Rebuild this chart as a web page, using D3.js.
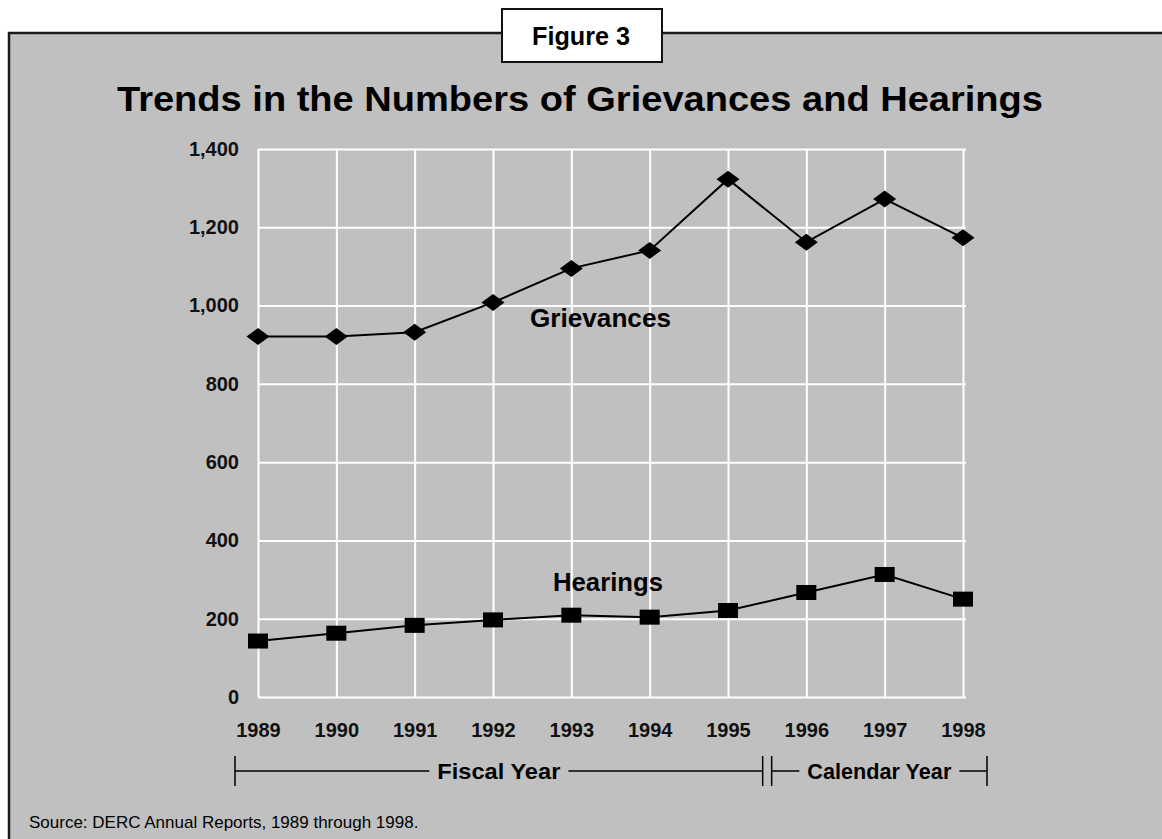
<!DOCTYPE html>
<html>
<head>
<meta charset="utf-8">
<script src="https://cdn.jsdelivr.net/npm/d3@7"></script>
<style>
  body { margin: 0; background: #fff; }
  svg { display: block; font-family: "Liberation Sans", Arial, sans-serif; }
</style>
</head>
<body>
<svg width="1162" height="839"></svg>
<script>
const years = [1989, 1990, 1991, 1992, 1993, 1994, 1995, 1996, 1997, 1998];
const grievances = [921, 921, 932, 1008, 1095, 1141, 1323, 1162, 1272, 1173];
const hearings = [143, 163, 183, 197, 209, 204, 221, 267, 313, 250];
const yTicks = [0, 200, 400, 600, 800, 1000, 1200, 1400];

const svg = d3.select('svg');

// frame
svg.append('rect')
    .attr('x', 9).attr('y', 33)
    .attr('width', 1170).attr('height', 830)
    .attr('fill', '#c0c0c0')
    .attr('stroke', '#1a1a1a')
    .attr('stroke-width', 2.5);

// figure label box
svg.append('rect')
    .attr('x', 502).attr('y', 9)
    .attr('width', 160).attr('height', 53)
    .attr('fill', '#fff')
    .attr('stroke', '#111')
    .attr('stroke-width', 2);
svg.append('text')
    .attr('x', 532).attr('y', 45)
    .attr('font-weight', 'bold')
    .attr('font-size', 25)
    .attr('textLength', 98).attr('lengthAdjust', 'spacingAndGlyphs')
    .text('Figure 3');

svg.append('text')
    .attr('x', 117).attr('y', 111)
    .attr('font-weight', 'bold')
    .attr('font-size', 35)
    .attr('textLength', 926).attr('lengthAdjust', 'spacingAndGlyphs')
    .text('Trends in the Numbers of Grievances and Hearings');

const x = d3.scaleLinear().domain([1989, 1998]).range([258, 963]);
const y = d3.scaleLinear().domain([0, 1400]).range([697, 149]);

// gridlines + axes
const yAxisG = svg.append('g')
    .attr('transform', `translate(${x(1989)},0)`)
    .call(d3.axisLeft(y)
        .tickValues(yTicks)
        .tickFormat(d3.format(','))
        .tickSizeInner(-(x(1998) - x(1989) + 3))
        .tickSizeOuter(0)
        .tickPadding(19));
yAxisG.select('.domain').remove();
yAxisG.selectAll('line').attr('stroke', '#fff').attr('stroke-width', 2);
yAxisG.selectAll('text')
    .attr('font-size', 20).attr('font-weight', 'bold').attr('fill', '#111')
    .attr('font-family', '"Liberation Sans", Arial, sans-serif');

const xAxisG = svg.append('g')
    .attr('transform', `translate(0,${y(0)})`)
    .call(d3.axisBottom(x)
        .tickValues(years)
        .tickFormat(d3.format('d'))
        .tickSizeInner(-(y(0) - y(1400)))
        .tickSizeOuter(0)
        .tickPadding(26));
xAxisG.select('.domain').remove();
xAxisG.selectAll('line').attr('stroke', '#fff').attr('stroke-width', 2);
xAxisG.selectAll('text')
    .attr('font-size', 20).attr('font-weight', 'bold').attr('fill', '#111')
    .attr('font-family', '"Liberation Sans", Arial, sans-serif');

// lines
const line = d3.line().x((d, i) => x(years[i])).y(d => y(d));
svg.append('path').datum(grievances)
    .attr('d', line).attr('fill', 'none').attr('stroke', '#000').attr('stroke-width', 2);
svg.append('path').datum(hearings)
    .attr('d', line).attr('fill', 'none').attr('stroke', '#000').attr('stroke-width', 2);

// markers
svg.append('g').selectAll('path')
    .data(grievances)
    .join('path')
    .attr('transform', (d, i) => `translate(${x(years[i])},${y(d)})`)
    .attr('d', 'M-11.5,0L0,-8.5L11.5,0L0,8.5Z')
    .attr('fill', '#000');

svg.append('g').selectAll('rect')
    .data(hearings)
    .join('rect')
    .attr('x', (d, i) => x(years[i]) - 10)
    .attr('y', d => y(d) - 7.5)
    .attr('width', 20).attr('height', 15)
    .attr('fill', '#000');

// series labels
svg.append('text')
    .attr('x', 530).attr('y', 327)
    .attr('font-weight', 'bold').attr('font-size', 26)
    .attr('textLength', 141).attr('lengthAdjust', 'spacingAndGlyphs')
    .text('Grievances');
svg.append('text')
    .attr('x', 553).attr('y', 591)
    .attr('font-weight', 'bold').attr('font-size', 26)
    .attr('textLength', 110).attr('lengthAdjust', 'spacingAndGlyphs')
    .text('Hearings');

// period brackets
const bY = 771;
const mid = (x(1995) + x(1996)) / 2;
const brk = svg.append('g').attr('stroke', '#000').attr('stroke-width', 1.5);
const vTick = xx => brk.append('line')
    .attr('x1', xx).attr('x2', xx).attr('y1', bY - 15).attr('y2', bY + 15);
vTick(x(1989) - 23);
vTick(mid - 4.5);
vTick(mid + 4.5);
vTick(x(1998) + 24);

const periods = [
    { label: 'Fiscal Year', x0: x(1989) - 23, x1: mid - 4.5, w: 123 },
    { label: 'Calendar Year', x0: mid + 4.5, x1: x(1998) + 24, w: 144 }
];
periods.forEach(p => {
    const cx = (p.x0 + p.x1) / 2;
    svg.append('text')
        .attr('x', cx).attr('y', bY + 8)
        .attr('text-anchor', 'middle')
        .attr('font-weight', 'bold').attr('font-size', 22)
        .attr('textLength', p.w).attr('lengthAdjust', 'spacingAndGlyphs')
        .text(p.label);
    brk.append('line').attr('x1', p.x0).attr('x2', cx - p.w / 2 - 8).attr('y1', bY).attr('y2', bY);
    brk.append('line').attr('x1', cx + p.w / 2 + 8).attr('x2', p.x1).attr('y1', bY).attr('y2', bY);
});

svg.append('text')
    .attr('x', 29).attr('y', 828)
    .attr('font-size', 17)
    .text('Source: DERC Annual Reports, 1989 through 1998.');
</script>
</body>
</html>
